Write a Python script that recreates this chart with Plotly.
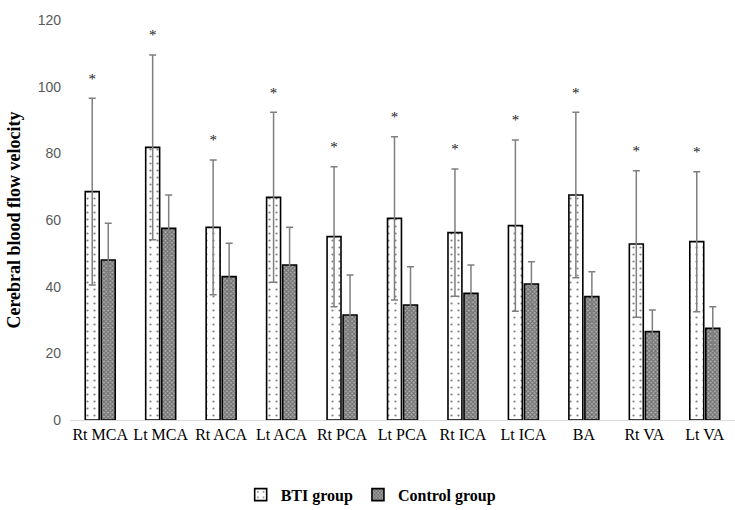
import plotly.graph_objects as go

categories = ["Rt MCA", "Lt MCA", "Rt ACA", "Lt ACA", "Rt PCA", "Lt PCA",
              "Rt ICA", "Lt ICA", "BA", "Rt VA", "Lt VA"]
bti_mean = [68.5, 81.8, 57.8, 66.8, 55.0, 60.5, 56.2, 58.3, 67.5, 52.8, 53.5]
bti_sd = [28.0, 27.7, 20.2, 25.5, 21.0, 24.5, 19.1, 25.7, 24.8, 22.0, 21.0]
ctrl_mean = [48.0, 57.5, 43.0, 46.5, 31.5, 34.5, 38.0, 40.8, 37.0, 26.5, 27.5]
ctrl_sd = [11.0, 10.0, 10.0, 11.3, 12.0, 11.5, 8.5, 6.7, 7.5, 6.5, 6.5]
y_ticks = [0, 20, 40, 60, 80, 100, 120]

serif = "Liberation Serif, DejaVu Serif, serif"
sans = "Liberation Sans"

err_style = dict(type="data", visible=True, color="#7f7f7f", thickness=1.5, width=3.5)

fig = go.Figure()
fig.add_trace(go.Bar(
    name="BTI group", x=categories, y=bti_mean, offsetgroup="bti",
    error_y=dict(array=bti_sd, **err_style),
    marker=dict(color="white", line=dict(color="black", width=1.6),
                pattern=dict(shape=".", fgcolor="black", bgcolor="white",
                             size=7, solidity=0.08)),
))
fig.add_trace(go.Bar(
    name="Control group", x=categories, y=ctrl_mean, offsetgroup="ctrl",
    error_y=dict(array=ctrl_sd, **err_style),
    marker=dict(color="#7a7a7a", line=dict(color="black", width=1.6),
                pattern=dict(shape="x", fgcolor="#2e2e2e", bgcolor="#b0b0b0",
                             size=3, solidity=0.6)),
))

star_y = [m + s + 5.5 for m, s in zip(bti_mean, bti_sd)]
fig.add_trace(go.Scatter(
    x=categories, y=star_y, mode="text", text=["*"] * len(categories),
    textfont=dict(family=serif, size=15, color="#1a1a1a"),
    showlegend=False, hoverinfo="skip", offsetgroup="bti",
))
fig.add_trace(go.Scatter(
    x=categories, y=[None] * len(categories), mode="text",
    showlegend=False, hoverinfo="skip", offsetgroup="ctrl",
))

fig.update_layout(
    width=735, height=510,
    font=dict(family=serif, color="black"),
    margin=dict(l=70, r=0, t=20, b=90),
    plot_bgcolor="white", paper_bgcolor="white",
    barmode="group", bargap=0.47, bargroupgap=0.13,
    scattermode="group", scattergap=0.47,
    showlegend=True,
    legend=dict(orientation="h", xref="container", x=0.505, xanchor="center",
                yref="container", y=0.03, yanchor="middle",
                font=dict(family=serif, size=16, color="black", weight="bold"),
                itemwidth=30, traceorder="normal"),
    xaxis=dict(showline=True, linecolor="#d9d9d9", linewidth=1, tickangle=0,
               tickfont=dict(family=serif, size=16, color="black"),
               ticks="", showgrid=False),
    yaxis=dict(range=[0, 120], tickvals=y_ticks, showgrid=False, zeroline=False,
               showline=False, ticklabelstandoff=8,
               tickfont=dict(family=sans, size=14, color="#595959"),
               title=dict(text="Cerebral blood flow velocity",
                          font=dict(family=serif, size=18, color="black", weight="bold"),
                          standoff=12)),
)

fig.write_html("out.html", config={"displayModeBar": False},
               post_script="document.body.style.margin='0';")
